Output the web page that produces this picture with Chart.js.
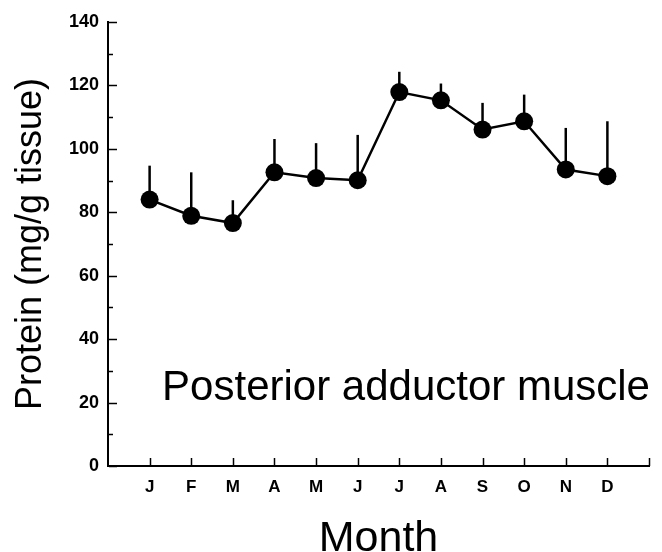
<!DOCTYPE html>
<html>
<head>
<meta charset="utf-8">
<script src="https://cdn.jsdelivr.net/npm/chart.js@4.4.1/dist/chart.umd.min.js"></script>
<style>
  html, body { margin: 0; padding: 0; background: #fff; }
  #wrap { width: 662px; height: 552px; }
</style>
</head>
<body>
<div id="wrap"><canvas id="c" width="662" height="552"></canvas></div>
<script>
// ---- data ----
const months = ['J', 'F', 'M', 'A', 'M', 'J', 'J', 'A', 'S', 'O', 'N', 'D'];
const protein = [84.0, 78.9, 76.6, 92.6, 90.8, 90.1, 117.9, 115.3, 106.1, 108.7, 93.5, 91.4];
const errorTop = [94.7, 92.6, 83.8, 103.1, 101.8, 104.4, 124.3, 120.6, 114.5, 117.1, 106.6, 108.7];
const yTicks = [0, 20, 40, 60, 80, 100, 120, 140];
const yMinorTicks = [10, 30, 50, 70, 90, 110, 130];
const yTitle = 'Protein (mg/g tissue)';
const xTitle = 'Month';
const annotation = 'Posterior adductor muscle';

const points = protein.map((v, i) => ({ x: i + 1, y: v }));

const FONT = '"Liberation Sans", Arial, Helvetica, sans-serif';

const errorBars = {
  id: 'errorBars',
  beforeDatasetsDraw(chart) {
    const { ctx, scales: { x, y } } = chart;
    ctx.save();
    ctx.strokeStyle = '#000';
    ctx.lineWidth = 2.5;
    errorTop.forEach((t, i) => {
      const px = x.getPixelForValue(i + 1);
      ctx.beginPath();
      ctx.moveTo(px, y.getPixelForValue(protein[i]));
      ctx.lineTo(px, y.getPixelForValue(t));
      ctx.stroke();
    });
    ctx.restore();
  }
};

const inwardTicks = {
  id: 'inwardTicks',
  afterDraw(chart) {
    const { ctx, scales: { x, y } } = chart;
    ctx.save();
    ctx.strokeStyle = '#000';
    ctx.lineWidth = 1.5;
    const ax = x.left + 1;
    yTicks.forEach(v => {
      const py = Math.round(y.getPixelForValue(v)) + 0.5;
      ctx.beginPath(); ctx.moveTo(ax, py); ctx.lineTo(ax + 8, py); ctx.stroke();
    });
    yMinorTicks.forEach(v => {
      const py = Math.round(y.getPixelForValue(v)) + 0.5;
      ctx.beginPath(); ctx.moveTo(ax, py); ctx.lineTo(ax + 4, py); ctx.stroke();
    });
    const ay = y.bottom;
    for (let i = 1; i <= months.length + 1; i++) {
      const px = Math.round(x.getPixelForValue(i)) + 0.5;
      ctx.beginPath(); ctx.moveTo(px, ay); ctx.lineTo(px, ay - 8); ctx.stroke();
    }
    ctx.restore();
  }
};

const annotationText = {
  id: 'annotationText',
  afterDraw(chart) {
    const { ctx, scales: { x, y } } = chart;
    ctx.save();
    ctx.fillStyle = '#000';
    ctx.font = '42px ' + FONT;
    ctx.textAlign = 'left';
    ctx.textBaseline = 'alphabetic';
    ctx.fillText(annotation, x.getPixelForValue(1.3), y.getPixelForValue(20.8));
    ctx.restore();
  }
};

new Chart(document.getElementById('c'), {
  type: 'line',
  data: {
    datasets: [{
      data: points,
      borderColor: '#000',
      borderWidth: 2.5,
      backgroundColor: '#000',
      pointRadius: 9,
      pointHoverRadius: 9,
      pointBackgroundColor: '#000',
      pointBorderColor: '#000',
      pointBorderWidth: 0,
      tension: 0,
      fill: false
    }]
  },
  options: {
    responsive: false,
    animation: false,
    events: [],
    layout: { padding: { left: 0, top: 22, right: 13, bottom: 0 } },
    plugins: { legend: { display: false }, tooltip: { enabled: false } },
    scales: {
      x: {
        type: 'linear',
        min: 0,
        max: 13,
        afterFit(s) { s.height = 86; },
        ticks: {
          stepSize: 1,
          autoSkip: false,
          maxRotation: 0,
          padding: 11,
          color: '#000',
          font: { family: FONT, size: 17, weight: 'bold' },
          callback: v => (v >= 1 && v <= months.length) ? months[v - 1] : ''
        },
        grid: { display: false, drawTicks: false },
        border: { display: true, color: '#000', width: 2 },
        title: {
          display: true,
          text: xTitle,
          color: '#000',
          font: { family: FONT, size: 43, lineHeight: 1 },
          padding: { top: 0, bottom: -9 }
        }
      },
      y: {
        type: 'linear',
        min: 0,
        max: 140,
        afterFit(s) { s.width = 108; },
        afterBuildTicks(s) { s.ticks = yTicks.map(v => ({ value: v })); },
        ticks: {
          padding: 9,
          color: '#000',
          font: { family: FONT, size: 18, weight: 'bold' }
        },
        grid: { display: false, drawTicks: false },
        border: { display: true, color: '#000', width: 2 },
        title: {
          display: true,
          text: yTitle,
          color: '#000',
          font: { family: FONT, size: 36, lineHeight: 1 },
          padding: { top: 13, bottom: 0 }
        }
      }
    }
  },
  plugins: [errorBars, inwardTicks, annotationText]
});
</script>
</body>
</html>
